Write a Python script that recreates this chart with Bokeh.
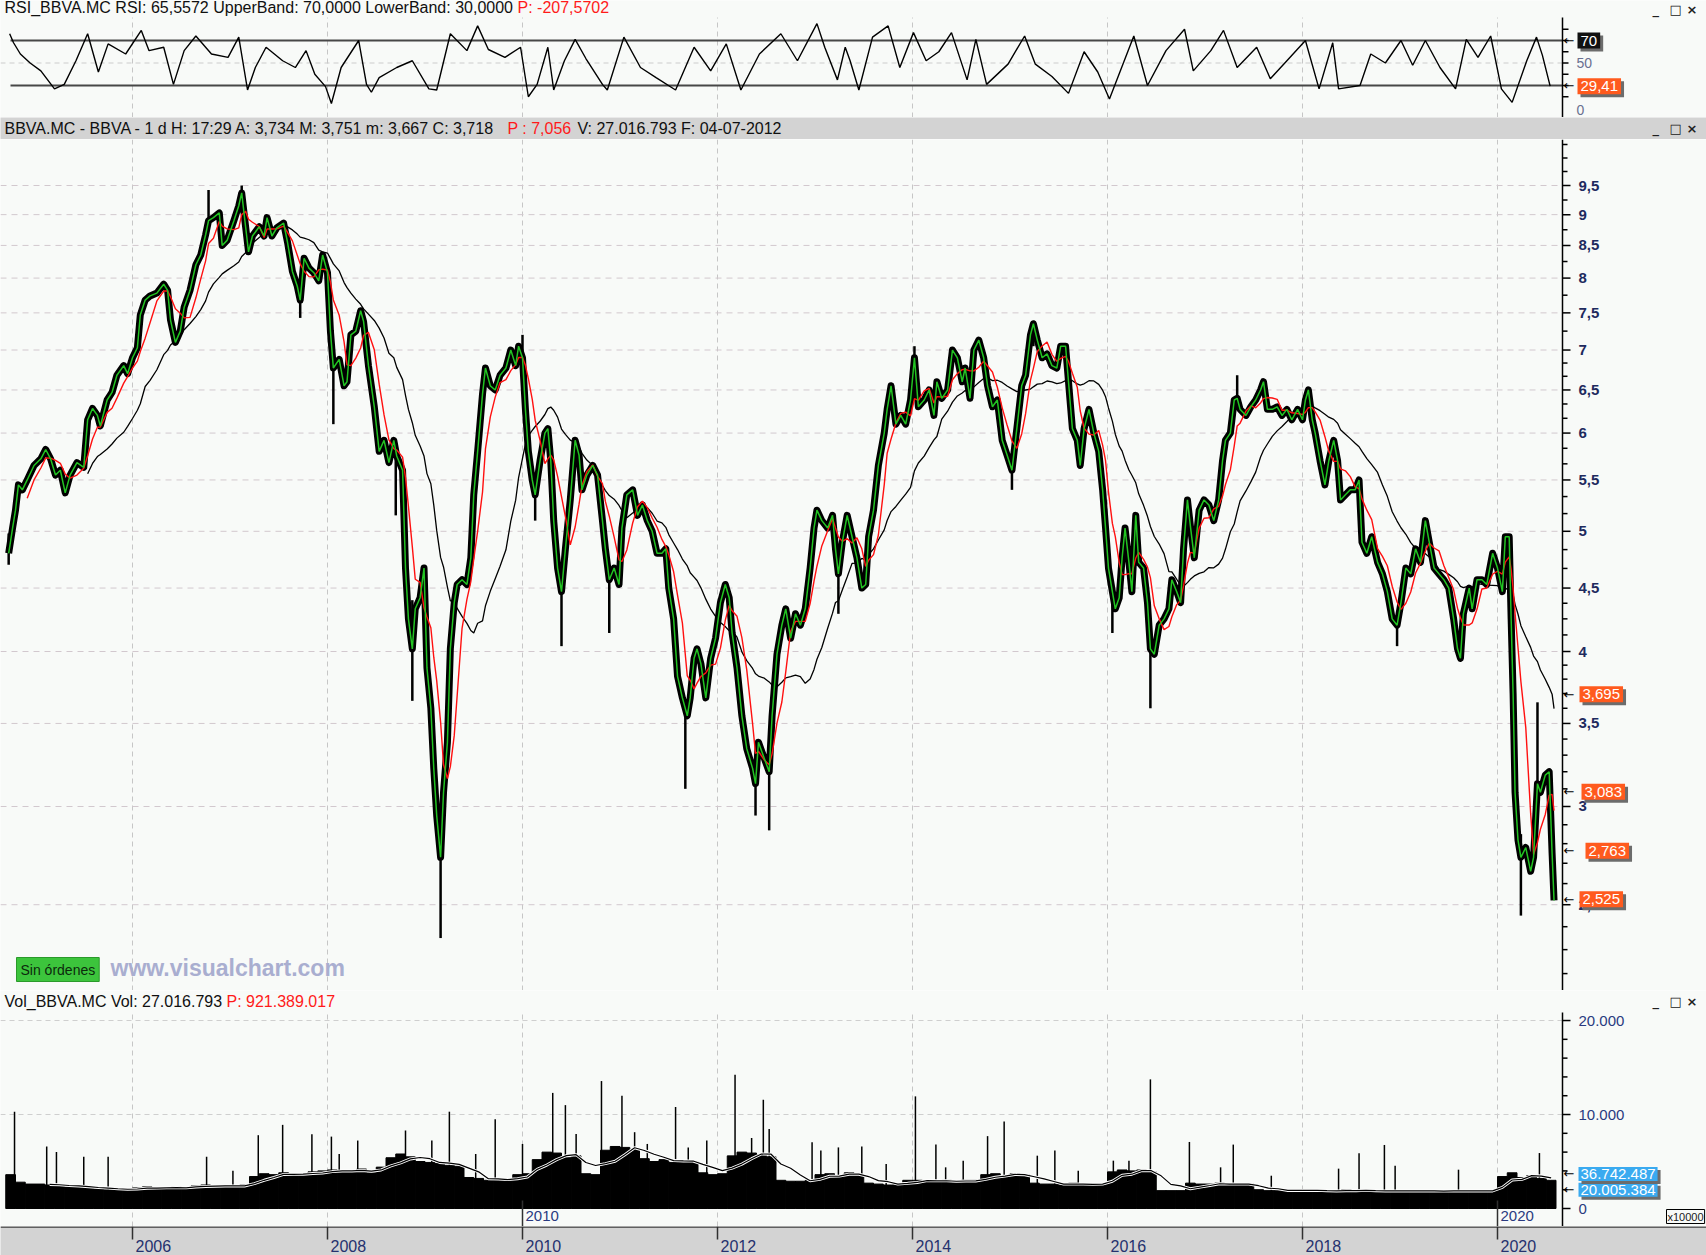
import numpy as np
from bokeh.plotting import figure
from bokeh.layouts import column
from bokeh.models import Range1d, Label
from bokeh.embed import file_html
from bokeh.resources import INLINE
from bokeh.core.properties import value

# ---------------- data ----------------
year_ticks = [2006, 2008, 2010, 2012, 2014, 2016, 2018, 2020]
year_labels = ["2006", "2008", "2010", "2012", "2014", "2016", "2018", "2020"]
decade_ticks = [2010, 2020]
decade_labels = ["2010", "2020"]

price_dates = [
    2004.73, 2004.77, 2004.80, 2004.83, 2004.87, 2004.92, 2004.99, 2005.06, 2005.11, 2005.16,
    2005.21, 2005.26, 2005.31, 2005.36, 2005.43, 2005.50, 2005.54, 2005.59, 2005.64, 2005.67,
    2005.74, 2005.79, 2005.84, 2005.91, 2005.95, 2006.00, 2006.05, 2006.08, 2006.13, 2006.18,
    2006.25, 2006.32, 2006.36, 2006.39, 2006.44, 2006.49, 2006.53, 2006.59, 2006.65, 2006.70,
    2006.75, 2006.78, 2006.83, 2006.89, 2006.92, 2006.97, 2007.04, 2007.09, 2007.12, 2007.16,
    2007.19, 2007.23, 2007.30, 2007.35, 2007.38, 2007.43, 2007.48, 2007.55, 2007.59, 2007.64,
    2007.69, 2007.72, 2007.76, 2007.81, 2007.86, 2007.91, 2007.95, 2008.00, 2008.03, 2008.06,
    2008.12, 2008.17, 2008.20, 2008.24, 2008.29, 2008.34, 2008.37, 2008.42, 2008.48, 2008.53,
    2008.58, 2008.63, 2008.68, 2008.71, 2008.77, 2008.80, 2008.83, 2008.87, 2008.90, 2008.95,
    2008.99, 2009.02, 2009.06, 2009.09, 2009.12, 2009.16, 2009.19, 2009.23, 2009.26, 2009.30,
    2009.33, 2009.38, 2009.43, 2009.47, 2009.50, 2009.54, 2009.59, 2009.62, 2009.67, 2009.72,
    2009.77, 2009.83, 2009.88, 2009.93, 2009.96, 2010.00, 2010.03, 2010.06, 2010.10, 2010.13,
    2010.18, 2010.23, 2010.26, 2010.29, 2010.32, 2010.36, 2010.40, 2010.44, 2010.49, 2010.54,
    2010.58, 2010.61, 2010.66, 2010.72, 2010.77, 2010.82, 2010.85, 2010.89, 2010.94, 2010.99,
    2011.02, 2011.07, 2011.13, 2011.18, 2011.23, 2011.28, 2011.33, 2011.38, 2011.43, 2011.47,
    2011.50, 2011.55, 2011.59, 2011.64, 2011.69, 2011.72, 2011.76, 2011.79, 2011.83, 2011.88,
    2011.93, 2011.98, 2012.03, 2012.08, 2012.12, 2012.15, 2012.20, 2012.25, 2012.30, 2012.36,
    2012.39, 2012.42, 2012.48, 2012.53, 2012.56, 2012.61, 2012.66, 2012.70, 2012.75, 2012.80,
    2012.85, 2012.90, 2012.95, 2012.99, 2013.02, 2013.07, 2013.13, 2013.18, 2013.21, 2013.24,
    2013.28, 2013.33, 2013.38, 2013.43, 2013.48, 2013.52, 2013.55, 2013.60, 2013.65, 2013.71,
    2013.74, 2013.78, 2013.83, 2013.88, 2013.93, 2013.98, 2014.02, 2014.06, 2014.12, 2014.17,
    2014.22, 2014.25, 2014.30, 2014.36, 2014.41, 2014.46, 2014.51, 2014.54, 2014.59, 2014.63,
    2014.68, 2014.73, 2014.77, 2014.82, 2014.87, 2014.92, 2014.97, 2015.02, 2015.07, 2015.12,
    2015.16, 2015.21, 2015.24, 2015.28, 2015.33, 2015.38, 2015.43, 2015.48, 2015.52, 2015.57,
    2015.60, 2015.64, 2015.69, 2015.72, 2015.76, 2015.81, 2015.86, 2015.91, 2015.95, 2015.98,
    2016.01, 2016.05, 2016.08, 2016.12, 2016.15, 2016.18, 2016.22, 2016.25, 2016.29, 2016.32,
    2016.37, 2016.41, 2016.44, 2016.48, 2016.53, 2016.58, 2016.63, 2016.66, 2016.71, 2016.75,
    2016.78, 2016.82, 2016.85, 2016.89, 2016.94, 2016.99, 2017.04, 2017.09, 2017.14, 2017.18,
    2017.21, 2017.26, 2017.30, 2017.33, 2017.36, 2017.42, 2017.47, 2017.52, 2017.57, 2017.60,
    2017.64, 2017.69, 2017.74, 2017.79, 2017.84, 2017.89, 2017.95, 2018.00, 2018.03, 2018.06,
    2018.10, 2018.13, 2018.18, 2018.23, 2018.27, 2018.32, 2018.36, 2018.39, 2018.44, 2018.49,
    2018.54, 2018.58, 2018.61, 2018.66, 2018.71, 2018.77, 2018.82, 2018.87, 2018.92, 2018.97,
    2019.01, 2019.06, 2019.11, 2019.16, 2019.21, 2019.26, 2019.30, 2019.35, 2019.40, 2019.45,
    2019.50, 2019.55, 2019.59, 2019.62, 2019.65, 2019.71, 2019.74, 2019.79, 2019.84, 2019.89,
    2019.95, 2020.00, 2020.05, 2020.08, 2020.12, 2020.14, 2020.16, 2020.18, 2020.21, 2020.24,
    2020.29, 2020.34, 2020.37, 2020.41, 2020.44, 2020.49, 2020.53, 2020.56, 2020.58,
]
price_close = [
    4.80, 5.03, 5.20, 5.45, 5.40, 5.50, 5.65, 5.72, 5.82, 5.72,
    5.55, 5.60, 5.37, 5.55, 5.68, 5.63, 6.15, 6.28, 6.20, 6.08,
    6.38, 6.47, 6.68, 6.80, 6.70, 6.90, 7.03, 7.47, 7.68, 7.74,
    7.78, 7.91, 7.82, 7.40, 7.10, 7.25, 7.58, 7.82, 8.20, 8.35,
    8.67, 8.90, 8.95, 9.03, 8.50, 8.58, 8.90, 9.15, 9.37, 8.80,
    8.40, 8.65, 8.80, 8.65, 8.95, 8.65, 8.78, 8.86, 8.55, 8.10,
    7.88, 7.68, 8.30, 8.15, 8.08, 7.96, 8.35, 8.08, 7.25, 6.77,
    6.88, 6.55, 6.60, 7.20, 7.25, 7.53, 7.38, 6.80, 6.30, 5.80,
    5.92, 5.68, 5.92, 5.75, 5.60, 4.67, 4.25, 4.02, 4.33, 4.42,
    4.67, 3.88, 3.60, 3.22, 2.95, 2.73, 3.08, 3.38, 4.02, 4.38,
    4.53, 4.57, 4.53, 4.76, 5.35, 5.80, 6.45, 6.77, 6.55, 6.50,
    6.68, 6.77, 7.00, 6.80, 7.05, 6.90, 6.27, 5.80, 5.50, 5.35,
    5.70, 6.00, 6.05, 5.70, 5.10, 4.67, 4.47, 4.84, 5.30, 5.92,
    5.76, 5.40, 5.55, 5.65, 5.55, 5.10, 4.84, 4.57, 4.67, 4.53,
    5.03, 5.35, 5.40, 5.15, 5.25, 5.10, 5.00, 4.80, 4.80, 4.84,
    4.50, 4.25, 3.82, 3.67, 3.55, 3.67, 3.95, 4.02, 3.91, 3.67,
    3.95, 4.10, 4.38, 4.53, 4.42, 4.14, 3.88, 3.55, 3.34, 3.22,
    3.13, 3.38, 3.28, 3.20, 3.55, 3.98, 4.20, 4.33, 4.10, 4.29,
    4.20, 4.33, 4.67, 5.03, 5.20, 5.10, 5.03, 5.15, 4.84, 4.62,
    4.90, 5.15, 4.95, 4.76, 4.50, 4.53, 4.95, 5.20, 5.65, 6.00,
    6.27, 6.55, 6.10, 6.20, 6.10, 6.38, 6.90, 6.30, 6.38, 6.50,
    6.20, 6.60, 6.40, 6.50, 7.00, 6.90, 6.60, 6.77, 6.40, 7.00,
    7.13, 6.90, 6.55, 6.30, 6.38, 5.92, 5.76, 5.60, 6.05, 6.55,
    6.68, 7.20, 7.35, 7.13, 6.90, 6.95, 6.80, 6.77, 7.05, 7.05,
    6.60, 6.05, 5.92, 5.65, 6.05, 6.27, 6.00, 5.80, 5.40, 5.03,
    4.67, 4.47, 4.33, 4.42, 4.76, 5.03, 4.72, 4.47, 5.15, 4.72,
    4.67, 4.38, 4.02, 3.98, 4.20, 4.25, 4.33, 4.57, 4.47, 4.38,
    4.84, 5.30, 5.05, 4.76, 5.20, 5.30, 5.25, 5.10, 5.30, 5.70,
    5.92, 6.00, 6.38, 6.40, 6.27, 6.20, 6.30, 6.38, 6.50, 6.60,
    6.27, 6.27, 6.30, 6.20, 6.27, 6.15, 6.27, 6.15, 6.38, 6.50,
    6.15, 6.00, 5.70, 5.45, 5.70, 5.92, 5.70, 5.30, 5.35, 5.40,
    5.40, 5.50, 4.90, 4.80, 4.95, 4.72, 4.62, 4.47, 4.25, 4.20,
    4.38, 4.67, 4.62, 4.84, 4.72, 5.10, 4.90, 4.67, 4.62, 4.57,
    4.50, 4.25, 4.02, 3.95, 4.29, 4.50, 4.33, 4.57, 4.57, 4.53,
    4.80, 4.67, 4.47, 4.95, 4.95, 4.25, 3.70, 3.08, 2.82, 2.73,
    2.78, 2.66, 2.73, 3.13, 3.08, 3.18, 3.20, 2.75, 2.52,
]

wick_dates = [2004.73, 2006.78, 2007.12, 2007.72, 2008.06, 2008.70, 2008.87, 2009.16,
              2010.00, 2010.13, 2010.40, 2010.89, 2011.67, 2012.39, 2012.53, 2013.24,
              2014.02, 2015.02, 2015.24, 2016.05, 2016.44, 2017.33, 2018.97, 2020.24, 2020.41]
wick_low = [4.70, 8.85, 9.10, 7.43, 6.10, 5.15, 3.65, 2.35,
            6.85, 5.10, 4.04, 4.14, 3.10, 2.95, 2.87, 4.29,
            6.70, 5.40, 7.05, 4.14, 3.60, 6.30, 4.04, 2.45, 3.00]
wick_high = [4.98, 9.42, 9.50, 7.90, 6.90, 5.90, 4.40, 2.95,
             7.20, 5.50, 4.60, 4.60, 3.60, 3.30, 3.25, 4.70,
             7.05, 5.75, 7.38, 4.50, 4.10, 6.68, 4.25, 2.85, 3.64]

rsi_dates = [
    2004.74, 2004.78, 2004.85, 2004.95, 2005.06, 2005.20, 2005.30, 2005.42, 2005.54, 2005.65,
    2005.75, 2005.93, 2006.09, 2006.17, 2006.32, 2006.42, 2006.53, 2006.65, 2006.81, 2006.98,
    2007.09, 2007.18, 2007.26, 2007.37, 2007.54, 2007.67, 2007.78, 2007.87, 2007.98, 2008.04,
    2008.14, 2008.32, 2008.40, 2008.45, 2008.53, 2008.71, 2008.87, 2009.04, 2009.12, 2009.26,
    2009.43, 2009.54, 2009.65, 2009.82, 2009.98, 2010.06, 2010.15, 2010.26, 2010.32, 2010.43,
    2010.54, 2010.65, 2010.82, 2010.87, 2011.04, 2011.21, 2011.37, 2011.57, 2011.76, 2011.93,
    2012.09, 2012.24, 2012.43, 2012.65, 2012.82, 2013.02, 2013.10, 2013.23, 2013.31, 2013.36,
    2013.45, 2013.59, 2013.75, 2013.87, 2014.01, 2014.14, 2014.27, 2014.40, 2014.56, 2014.65,
    2014.76, 2014.98, 2015.15, 2015.26, 2015.43, 2015.60, 2015.76, 2015.90, 2016.02, 2016.27,
    2016.41, 2016.60, 2016.79, 2016.88, 2017.06, 2017.19, 2017.33, 2017.53, 2017.67, 2017.84,
    2018.03, 2018.17, 2018.31, 2018.37, 2018.59, 2018.70, 2018.85, 2019.01, 2019.13, 2019.26,
    2019.41, 2019.57, 2019.68, 2019.80, 2019.93, 2020.04, 2020.15, 2020.30, 2020.40, 2020.46,
    2020.54,
]
rsi_values = [
    76, 68, 58, 50, 43, 27, 31, 52, 76, 42,
    67, 58, 79, 61, 64, 31, 61, 74, 58, 55,
    73, 26, 46, 64, 52, 46, 61, 40, 29, 14,
    46, 70, 31, 24, 37, 46, 52, 27, 26, 76,
    61, 83, 62, 55, 64, 20, 31, 64, 26, 52,
    71, 54, 31, 26, 73, 46, 37, 26, 64, 43,
    67, 26, 58, 76, 52, 85, 64, 35, 64, 52,
    26, 73, 83, 46, 77, 52, 60, 77, 35, 71,
    31, 49, 74, 49, 38, 23, 60, 42, 18, 74,
    30, 61, 80, 43, 61, 79, 46, 64, 36, 52,
    70, 27, 68, 27, 30, 58, 50, 70, 48, 70,
    46, 27, 71, 55, 74, 27, 15, 52, 73, 57,
    29.41,
]

vol_by_year = {
    2004: [3600, 2800, 2600],
    2005: [2600, 2500, 2400, 2300, 2400, 2200, 2100, 2000, 2100, 2000],
    2006: [2200, 2300, 2200, 2100, 2300, 2200, 2400, 2500, 2400, 2300],
    2007: [2400, 2500, 3400, 3700, 3600, 3800, 3500, 3700, 3900, 4000],
    2008: [4100, 3900, 4000, 4200, 3800, 4400, 5400, 5800, 5500, 5000],
    2009: [4900, 4800, 4600, 4500, 3300, 3200, 3000, 3100, 3000, 3600],
    2010: [3700, 5200, 6000, 5900, 5400, 5600, 3700, 3600, 6200, 6600],
    2011: [6500, 6300, 5300, 5000, 5200, 4900, 5100, 5000, 3800, 3600],
    2012: [3700, 5600, 6000, 5900, 5700, 5500, 3000, 2900, 2900, 3000],
    2013: [3600, 3700, 3500, 3800, 3600, 2700, 2600, 2500, 2600, 3000],
    2014: [3000, 2900, 2900, 3000, 2800, 3000, 3000, 3600, 3700, 3500],
    2015: [3700, 3600, 2700, 2600, 2600, 2500, 2700, 2600, 2500, 2600],
    2016: [3900, 4100, 4000, 4100, 3900, 1900, 1900, 1900, 2700, 2600],
    2017: [2600, 2700, 2500, 2600, 2600, 2000, 1900, 1900, 1900, 2000],
    2018: [1900, 1900, 1800, 1900, 2000, 1900, 1900, 1800, 1900, 1900],
    2019: [1900, 1800, 1900, 1900, 1800, 1900, 1900, 1900, 1800, 1900],
    2020: [3400, 3800, 3300, 3500, 3200, 3000],
}

spike_dates = [2004.79, 2005.12, 2005.22, 2005.50, 2005.75, 2006.76, 2007.03, 2007.29,
               2007.54, 2007.84, 2008.04, 2008.12, 2008.31, 2008.80, 2009.07, 2009.25,
               2009.52, 2009.72, 2010.00, 2010.31, 2010.44, 2010.55, 2010.81, 2011.02,
               2011.15, 2011.28, 2011.57, 2011.70, 2011.89, 2012.18, 2012.35, 2012.47,
               2012.53, 2012.97, 2013.06, 2013.24, 2013.48, 2013.73, 2014.03, 2014.24,
               2014.34, 2014.52, 2014.77, 2014.94, 2015.28, 2015.46, 2015.70, 2016.06,
               2016.22, 2016.44, 2016.84, 2017.16, 2017.29, 2017.68, 2018.37, 2018.58,
               2018.84, 2018.95, 2019.60, 2020.43]
spike_values = [10300, 6600, 6000, 5500, 5500, 5500, 4020, 7800,
                8900, 7900, 7650, 5800, 7230, 8300, 7230, 10300,
                5800, 9500, 6870, 12300, 11000, 7940, 13560, 12000,
                8120, 6870, 10800, 6500, 7230, 14240, 7500, 11570,
                8470, 7050, 6160, 6500, 6600, 4730, 11930, 6800,
                4380, 5090, 7700, 9260, 5620, 6160, 4020, 5090,
                5090, 13740, 7080, 4380, 6800, 3490, 4240, 5870,
                6760, 4560, 4130, 5900]

rsi_title = "RSI_BBVA.MC  RSI: 65,5572  UpperBand: 70,0000  LowerBand: 30,0000"
rsi_title_red = "P: -207,5702"
price_title = "BBVA.MC - BBVA -  1 d  H: 17:29  A: 3,734  M: 3,751  m: 3,667  C: 3,718"
price_title_red = "P : 7,056"
price_title_end = "V: 27.016.793  F: 04-07-2012"
vol_title = "Vol_BBVA.MC  Vol: 27.016.793"
vol_title_red = "P: 921.389.017"
price_major = [2.5, 3, 3.5, 4, 4.5, 5, 5.5, 6, 6.5, 7, 7.5, 8, 8.5, 9, 9.5]
price_major_labels = ["2,5", "3", "3,5", "4", "4,5", "5", "5,5", "6", "6,5", "7", "7,5",
                      "8", "8,5", "9", "9,5"]
price_minor = [2.2, 2.3, 2.4, 2.6, 2.7, 2.8, 2.9, 3.1, 3.2, 3.3, 3.4, 3.6, 3.7, 3.8, 3.9,
               4.125, 4.25, 4.375, 4.667, 4.833, 5.167, 5.333, 5.667, 5.833, 6.167, 6.333,
               6.667, 6.833, 7.25, 7.75, 8.25, 8.75, 9.25, 9.75, 10.0, 10.25]
price_boxes = [3.695, 3.083, 2.763, 2.525]
price_box_text = ["3,695", "3,083", "2,763", "2,525"]
rsi_ticks = [20, 30, 40, 50, 60, 70, 80]
rsi_label_vals = [50, 7.8]
rsi_label_text = ["50", "0"]
vol_major = [0, 10000, 20000]
vol_major_labels = ["0", "10.000", "20.000"]
vol_minor = [2000, 4000, 6000, 8000, 12000, 14000, 16000, 18000]
vol_boxes = [2000.5384, 3674.2487]
vol_box_text = ["20.005.384", "36.742.487"]

# ---------------- layout ----------------
W = 1706
PXY = 1 / 97.5                      # years per pixel
XL = 2006 - 132 * PXY               # page x = 0
XR = 2006 + 1574 * PXY              # page x = 1706
XA = 2006 + 1430 * PXY              # axis line, page x = 1562
BG = "#f8faf8"
BAND = "#d3d3d3"
SANS = "Liberation Sans"
TITLE_SIZE = "16px"
GRIDC = "#d2c8ce"
VGRID = "#c6c6c6"
xr = Range1d(XL, XR)


def full_fig(height, y_range, y_type="linear", bg=BG, x_range=None):
    p = figure(width=W, height=height, x_range=x_range or xr, y_range=y_range,
               y_axis_type=y_type, x_axis_location=None, y_axis_location=None,
               toolbar_location=None, output_backend="svg", min_border=0,
               background_fill_color=bg, border_fill_color=bg, outline_line_color=None)
    p.grid.visible = False
    return p


def add_label(p, x, y, text, xo=0, yo=0, color="black", size="15px", font=SANS,
              bg=None, style="normal", align="left", baseline="middle", pad=0,
              border=None):
    kw = dict(x=x, y=y, x_offset=xo, y_offset=yo, text=text, text_color=color,
              text_font_size=size, text_font=font, text_font_style=style,
              text_align=align, text_baseline=baseline)
    if bg is not None:
        kw["background_fill_color"] = bg
        kw["padding"] = pad
    if border is not None:
        kw["border_line_color"] = border
        kw["padding"] = pad
    p.add_layout(Label(**kw))


def value_box(p, y, text, xo, bg, pad=3):
    add_label(p, XA, y, text, xo=xo + 3, yo=-3, color="#6c6c6c", bg="#6c6c6c", pad=pad)
    add_label(p, XA, y, text, xo=xo, color="white", bg=bg, pad=pad)


def arrow(p, y):
    add_label(p, XA, y, "\u2190", xo=1, color="black", size="13px", font="DejaVu Sans")


def icons(p, x0, y, data_x=False, yo=0):
    for i, ch in enumerate(["_", "\u25a1", "\u00d7"]):
        if data_x:
            add_label(p, XA, y, ch, xo=90 + 17 * i, yo=yo, color="#202020", size="13px",
                      font="DejaVu Sans", style="bold")
        else:
            add_label(p, x0 + 17 * i, y, ch, color="#202020", size="13px",
                      font="DejaVu Sans", style="bold")


def vgrid(p, y0, y1):
    p.segment(x0=year_ticks, y0=y0, x1=year_ticks, y1=y1, line_color=VGRID,
              line_dash="5 4", line_width=1)


def axis(p, y0, y1, majors, minors, major_len=8, minor_len=5):
    p.segment(x0=XA, y0=y0, x1=XA, y1=y1, line_color="black", line_width=1.5)
    p.segment(x0=XA, y0=majors, x1=XA + major_len * PXY, y1=majors, line_color="black",
              line_width=1.5)
    if minors:
        p.segment(x0=XA, y0=minors, x1=XA + minor_len * PXY, y1=minors,
                  line_color="black", line_width=1.5)


def time_ma(t, v, w):
    t = np.asarray(t, float)
    v = np.asarray(v, float)
    ot, ov = [], []
    for i in range(len(t)):
        if t[i] - t[0] < w:
            continue
        m = (t >= t[i] - w) & (t <= t[i])
        ot.append(t[i])
        ov.append(v[m].mean())
    return ot, ov


# ---------- RSI panel (page y 0..117) ----------
r_bot, r_top, r_zone = 1.556, 105.56, 90.4
rp = full_fig(117, Range1d(r_bot, r_top))
vgrid(rp, r_bot, r_zone)
rp.segment(x0=XL, y0=50, x1=XA, y1=50, line_color="#cccccc", line_dash="5 4")
rp.segment(x0=XL + 10 * PXY, y0=[70, 30], x1=XA, y1=[70, 30], line_color="#474747",
           line_width=2.2)
rp.line(rsi_dates, rsi_values, line_color="black", line_width=1.4)
axis(rp, r_bot, r_zone, rsi_ticks, [], major_len=6)
rp.text(x=[XA, XA], y=rsi_label_vals, text=rsi_label_text, x_offset=14,
        text_font=value(SANS), text_font_size="14px", text_color="#6a7090",
        text_baseline="middle")
arrow(rp, 70)
arrow(rp, 30)
value_box(rp, 70, "70", 15, "#111111", pad=3)
value_box(rp, 29.41, "29,41", 15, "#ff5a1e", pad=3)
add_label(rp, XL, 98.9, rsi_title, xo=4, color="#101010", size=TITLE_SIZE)
add_label(rp, XL, 98.9, rsi_title_red, xo=517, color="#ff1a1a", size=TITLE_SIZE)
icons(rp, 0, 97.5, data_x=True)

# ---------- header band (page y 117..139) ----------
hb = full_fig(22, Range1d(0, 22), bg=BAND, x_range=Range1d(0, W))
add_label(hb, 4, 11, price_title, color="#101010", size=TITLE_SIZE)
add_label(hb, 507, 11, price_title_red, color="#ff1a1a", size=TITLE_SIZE)
add_label(hb, 577, 11, price_title_end, color="#101010", size=TITLE_SIZE)
icons(hb, 1652, 11)

# ---------- price panel (page y 139..990) ----------
p_lo, p_hi = 2.132, 10.347
pp = full_fig(851, Range1d(p_lo, p_hi), y_type="log")
vgrid(pp, p_lo, p_hi)
pp.segment(x0=XL, y0=price_major, x1=XA, y1=price_major, line_color=GRIDC,
           line_dash="6 5", line_width=1)
pp.segment(x0=wick_dates, y0=wick_low, x1=wick_dates, y1=wick_high, line_color="black",
           line_width=2.5)
pp.line(price_dates, price_close, line_color="black", line_width=7, line_join="round")
slow_t, slow_v = time_ma(price_dates, price_close, 0.77)
fast_t, fast_v = time_ma(price_dates, price_close, 0.18)
pp.line(slow_t, slow_v, line_color="black", line_width=1.3)
pp.line(fast_t, fast_v, line_color="#ff1010", line_width=1.4)
pp.line(price_dates, price_close, line_color="#22c322", line_width=1.5)
axis(pp, p_lo, p_hi, price_major, price_minor)
pp.text(x=[XA] * len(price_major), y=price_major, text=price_major_labels, x_offset=16,
        text_font=value(SANS), text_font_size="15px", text_font_style="bold",
        text_color="#1e2a5e", text_baseline="middle")
for val in price_boxes:
    arrow(pp, val)
for val, txt, xo in zip(price_boxes, price_box_text, [17, 19, 23, 17]):
    value_box(pp, val, txt, xo, "#ff5a1e", pad=3)
add_label(pp, XL, p_lo, "Sin \u00f3rdenes", xo=16, yo=21, color="#0c2a0c", size="14px",
          bg="#3cc43c", pad=4, border="#2a9a2a")
add_label(pp, XL, p_lo, "www.visualchart.com", xo=110, yo=23, color="#a9aed0",
          size="23px", style="bold")

# ---------- volume panel (page y 990..1226) ----------
v_lo, v_hi, v_zone = -1915, 23195, 20854
vp = full_fig(236, Range1d(v_lo, v_hi))
vgrid(vp, v_lo, v_zone)
vp.segment(x0=XL, y0=[10000, 20000], x1=XA, y1=[10000, 20000], line_color="#cfcfcf",
           line_dash="5 4")
vol_dates, vol_vals = [], []
for yr in sorted(vol_by_year):
    vals = vol_by_year[yr]
    start = 2004.75 if yr == 2004 else yr + 0.05
    for i, v in enumerate(vals):
        vol_dates.append(round(start + 0.1 * i, 3))
        vol_vals.append(v)
vp.vbar(x=vol_dates, top=vol_vals, bottom=0, width=0.1, fill_color="black",
        line_color="black")
vp.segment(x0=spike_dates, y0=0, x1=spike_dates, y1=spike_values, line_color="black",
           line_width=1.5)
vma_t, vma_v = time_ma(vol_dates, vol_vals, 0.3)
vp.line(vma_t, vma_v, line_color="white", line_width=3)
vp.line(vma_t, vma_v, line_color="black", line_width=1.2)
vp.segment(x0=decade_ticks, y0=v_lo, x1=decade_ticks, y1=850, line_color="#303030",
           line_width=1.5)
vp.text(x=decade_ticks, y=-760, text=decade_labels, x_offset=3, text_font=value(SANS),
        text_font_size="15px", text_color="#2a3a80", text_baseline="middle")
axis(vp, v_lo, v_zone, vol_major, vol_minor)
vp.text(x=[XA] * 3, y=vol_major, text=vol_major_labels, x_offset=16,
        text_font=value(SANS), text_font_size="15px", text_color="#2a3a80",
        text_baseline="middle")
for val in vol_boxes:
    arrow(vp, val)
for val, txt in zip(vol_boxes, vol_box_text):
    value_box(vp, val, txt, 16, "#3aaaf0", pad=2)
add_label(vp, XA, v_lo, "x10000", xo=104, yo=3, color="#202020", size="11px",
          baseline="bottom", bg=BG, pad=1, border="black")
add_label(vp, XL, 22025, vol_title, xo=4, color="#101010", size=TITLE_SIZE)
add_label(vp, XL, 22025, vol_title_red, xo=226, color="#ff1a1a", size=TITLE_SIZE)
icons(vp, 0, 22025, data_x=True)

# ---------- x-axis band (page y 1226..1255) ----------
xb = full_fig(29, Range1d(0, 29), bg=BAND)
xb.segment(x0=XL, y0=28.5, x1=XR, y1=28.5, line_color="#3a3a3a", line_width=1.5)
xb.segment(x0=year_ticks, y0=29, x1=year_ticks, y1=16, line_color="#303030",
           line_width=1.5)
xb.text(x=year_ticks, y=10, text=year_labels, x_offset=3, text_font=value(SANS),
        text_font_size="16px", text_color="#25316e", text_baseline="middle")

layout = column(rp, hb, pp, vp, xb, spacing=0)
open("out.html", "w").write(file_html(layout, INLINE))
